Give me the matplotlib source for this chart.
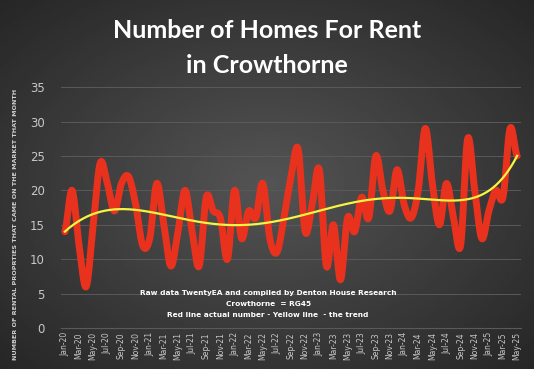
import numpy as np
import matplotlib as mpl
mpl.use('Agg')
import matplotlib.pyplot as plt

# monthly counts, Jan-20 .. May-25
months = ['Jan-20', 'Feb-20', 'Mar-20', 'Apr-20', 'May-20', 'Jun-20', 'Jul-20', 'Aug-20', 'Sep-20', 'Oct-20', 'Nov-20', 'Dec-20',
          'Jan-21', 'Feb-21', 'Mar-21', 'Apr-21', 'May-21', 'Jun-21', 'Jul-21', 'Aug-21', 'Sep-21', 'Oct-21', 'Nov-21', 'Dec-21',
          'Jan-22', 'Feb-22', 'Mar-22', 'Apr-22', 'May-22', 'Jun-22', 'Jul-22', 'Aug-22', 'Sep-22', 'Oct-22', 'Nov-22', 'Dec-22',
          'Jan-23', 'Feb-23', 'Mar-23', 'Apr-23', 'May-23', 'Jun-23', 'Jul-23', 'Aug-23', 'Sep-23', 'Oct-23', 'Nov-23', 'Dec-23',
          'Jan-24', 'Feb-24', 'Mar-24', 'Apr-24', 'May-24', 'Jun-24', 'Jul-24', 'Aug-24', 'Sep-24', 'Oct-24', 'Nov-24', 'Dec-24',
          'Jan-25', 'Feb-25', 'Mar-25', 'Apr-25', 'May-25']
homes = [14, 20, 12, 6, 15, 24, 21, 17, 21, 22, 18, 12,
         13, 21, 15, 9, 14, 20, 14, 9, 19, 17, 16, 10,
         20, 13, 17, 16, 21, 13, 11, 16, 22, 26, 14, 18,
         23, 9, 15, 7, 16, 14, 19, 16, 25, 20, 17, 23,
         18, 16, 20, 29, 21, 15, 21, 16, 12, 27.5, 20, 13,
         17, 20, 19, 29, 25]

notes = ['Raw data TwentyEA and compiled by Denton House Research',
         'Crowthorne  = RG45',
         'Red line actual number - Yellow line  - the trend']


def smooth(y, n=20):
    # catmull-rom style smoothing like the spreadsheet "smoothed line"
    y = np.asarray(y, dtype=float)
    p = np.concatenate([[y[0]], y, [y[-1]]])
    xs, ys = [], []
    for i in range(len(y) - 1):
        p0, p1, p2, p3 = p[i], p[i+1], p[i+2], p[i+3]
        t = np.linspace(0, 1, n, endpoint=False)
        v = 0.5 * ((2*p1) + (-p0 + p2)*t + (2*p0 - 5*p1 + 4*p2 - p3)*t**2 + (-p0 + 3*p1 - 3*p2 + p3)*t**3)
        xs.append(i + t); ys.append(v)
    xs.append([len(y) - 1]); ys.append([y[-1]])
    return np.concatenate(xs), np.concatenate(ys)


x = np.arange(len(homes))
fig = plt.figure(figsize=(5.34, 3.69), dpi=100)

# dark radial background
bg = fig.add_axes([0, 0, 1, 1], zorder=-10)
gx, gy = np.meshgrid(np.linspace(-1, 1, 300), np.linspace(-1, 1, 200))
r = np.sqrt(gx**2 + gy**2) / np.sqrt(2)
bg.imshow(0.33 - 0.18*r, cmap='gray', vmin=0, vmax=1, aspect='auto', extent=[0, 1, 0, 1])
bg.axis('off')

ax = fig.add_axes([0.115, 0.111, 0.86, 0.653])
ax.patch.set_alpha(0)
sx, sy = smooth(homes)
ax.plot(sx, sy, color='#e8321e', lw=5, solid_capstyle='round', solid_joinstyle='round', zorder=3)
coef = np.polyfit(x, homes, 6)
tx = np.linspace(0, len(homes) - 1, 300)
ax.plot(tx, np.polyval(coef, tx), color='#f5f542', lw=1.6, zorder=4)

ax.set_xlim(-0.5, len(homes) - 0.5)
ax.set_ylim(0, 35)
ax.set_yticks(range(0, 36, 5))
ax.set_xticks(x[::2])
ax.set_xticklabels(months[::2], rotation=90, fontsize=5.5, color='#c8c8c8')
ax.tick_params(axis='y', labelsize=8.5, colors='#c8c8c8', length=0, pad=12)
ax.tick_params(axis='x', length=0, pad=3)
ax.grid(axis='y', color='#5a5a5a', lw=0.7)
for s in ['top', 'right', 'left']:
    ax.spines[s].set_visible(False)
ax.spines['bottom'].set_color('#5a5a5a')
ax.set_ylabel('NUMBER OF RENTAL PROPRTIES THAT CAME ON THE MARKET THAT MONTH',
              fontsize=4.6, fontweight='bold', color='#d0d0d0', labelpad=4)
ax.yaxis.set_label_coords(-0.095, 0.43)

for i, t in enumerate(notes):
    ax.text(0.45, 0.145 - i*0.046, t, transform=ax.transAxes, ha='center', va='center',
            fontsize=5.3, fontweight='bold', color='white')

fig.text(0.5, 0.918, 'Number of Homes For Rent', ha='center', va='center',
         fontsize=18, fontweight='bold', color='white', family='Lato')
fig.text(0.5, 0.822, 'in Crowthorne', ha='center', va='center',
         fontsize=18, fontweight='bold', color='white', family='Lato')

fig.savefig('out.png', dpi=100)
